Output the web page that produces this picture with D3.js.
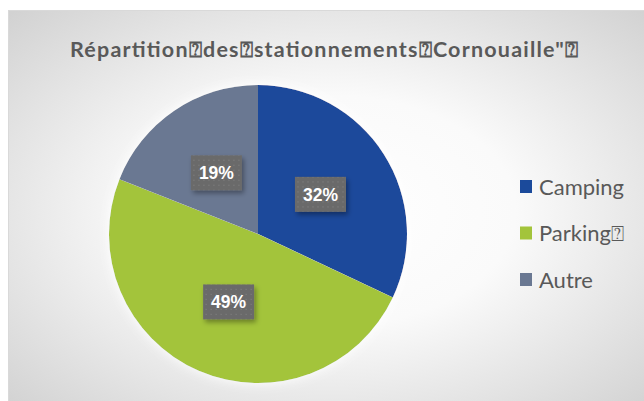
<!DOCTYPE html>
<html>
<head>
<meta charset="utf-8">
<script src="https://cdn.jsdelivr.net/npm/d3@7"></script>
<style>
  body { margin: 0; background: #fff; }
  svg { display: block; }
</style>
</head>
<body>
<svg width="644" height="401"></svg>
<script>
// data
var title = "Répartition\u2370des\u2370stationnements\u2370Cornouaille\"\u2370";
var categories = ["Camping", "Parking\u2370", "Autre"];
var values = [32, 49, 19];

var svg = d3.select("svg");
var width = +svg.attr("width");
var height = +svg.attr("height");

var color = d3.scaleOrdinal()
    .domain(categories)
    .range(["#1b4a9b", "#a3c43b", "#6a7892"]);

var defs = svg.append("defs");

// chart area background: soft radial gradient
var grad = defs.append("radialGradient")
    .attr("id", "bg")
    .attr("cx", "50%").attr("cy", "50%").attr("r", "72%");
grad.append("stop").attr("offset", "0%").attr("stop-color", "#ffffff");
grad.append("stop").attr("offset", "40%").attr("stop-color", "#fafafa");
grad.append("stop").attr("offset", "100%").attr("stop-color", "#d0d0d0");

// dotted fill for the label boxes
var pat = defs.append("pattern")
    .attr("id", "dots")
    .attr("width", 5).attr("height", 5)
    .attr("patternUnits", "userSpaceOnUse");
pat.append("rect").attr("width", 5).attr("height", 5).attr("fill", "#6b6b6b");
pat.append("rect").attr("x", 2).attr("y", 2).attr("width", 1).attr("height", 1).attr("fill", "#808080");

var shadow = defs.append("filter").attr("id", "shadow")
    .attr("x", "-30%").attr("y", "-30%").attr("width", "170%").attr("height", "170%");
shadow.append("feDropShadow")
    .attr("dx", 2).attr("dy", 3).attr("stdDeviation", 2.5)
    .attr("flood-color", "#000").attr("flood-opacity", 0.35);

var glow = defs.append("filter").attr("id", "glow")
    .attr("x", "-20%").attr("y", "-20%").attr("width", "140%").attr("height", "140%");
glow.append("feDropShadow")
    .attr("dx", 0).attr("dy", 0).attr("stdDeviation", 6)
    .attr("flood-color", "#fff").attr("flood-opacity", 1);

svg.append("rect")
    .attr("x", 8.5).attr("y", 10.5)
    .attr("width", width).attr("height", height)
    .attr("fill", "url(#bg)")
    .attr("stroke", "#d9d9d9");

svg.append("text")
    .attr("x", 324)
    .attr("y", 57)
    .attr("text-anchor", "middle")
    .attr("font-family", "Lato, 'Noto Sans', sans-serif")
    .attr("font-weight", "bold")
    .attr("font-size", 21.5)
    .attr("textLength", 508)
    .attr("lengthAdjust", "spacing")
    .attr("fill", "#595959")
    .text(title);

var radius = 149;
var g = svg.append("g").attr("transform", "translate(258,234)");

var pie = d3.pie().sort(null).value(function(d) { return d.value; });
var data = categories.map(function(c, i) { return {name: c, value: values[i]}; });
var total = d3.sum(values);

var arc = d3.arc().innerRadius(0).outerRadius(radius);
var labelArc = d3.arc().innerRadius(74).outerRadius(74);

g.append("g")
    .attr("filter", "url(#glow)")
    .selectAll(".slice")
    .data(pie(data))
    .enter()
    .append("path")
    .attr("class", "slice")
    .attr("d", arc)
    .attr("fill", function(d) { return color(d.data.name); });

var labels = g.selectAll(".label")
    .data(pie(data))
    .enter()
    .append("g")
    .attr("class", "label")
    .attr("transform", function(d) { return "translate(" + labelArc.centroid(d) + ")"; });

labels.append("rect")
    .attr("x", -25.5).attr("y", -17.5)
    .attr("width", 51).attr("height", 35)
    .attr("fill", "url(#dots)")
    .attr("filter", "url(#shadow)");

labels.append("text")
    .attr("text-anchor", "middle")
    .attr("dy", "0.36em")
    .attr("font-family", "'Liberation Sans', Arial, sans-serif")
    .attr("font-weight", "bold")
    .attr("font-size", 17.5)
    .attr("fill", "#ffffff")
    .text(function(d) { return d3.format(".0%")(d.data.value / total); });

// legend
var legend = svg.selectAll(".legend")
    .data(categories)
    .enter()
    .append("g")
    .attr("class", "legend")
    .attr("transform", function(d, i) { return "translate(520," + (186.5 + i * 46.5) + ")"; });

legend.append("rect")
    .attr("x", 0).attr("y", -6.5)
    .attr("width", 12).attr("height", 13)
    .attr("fill", function(d) { return color(d); });

legend.append("text")
    .attr("x", 19)
    .attr("y", 8)
    .attr("font-family", "Lato, 'Noto Sans', sans-serif")
    .attr("font-size", 22)
    .attr("fill", "#595959")
    .text(function(d) { return d; });
</script>
</body>
</html>
